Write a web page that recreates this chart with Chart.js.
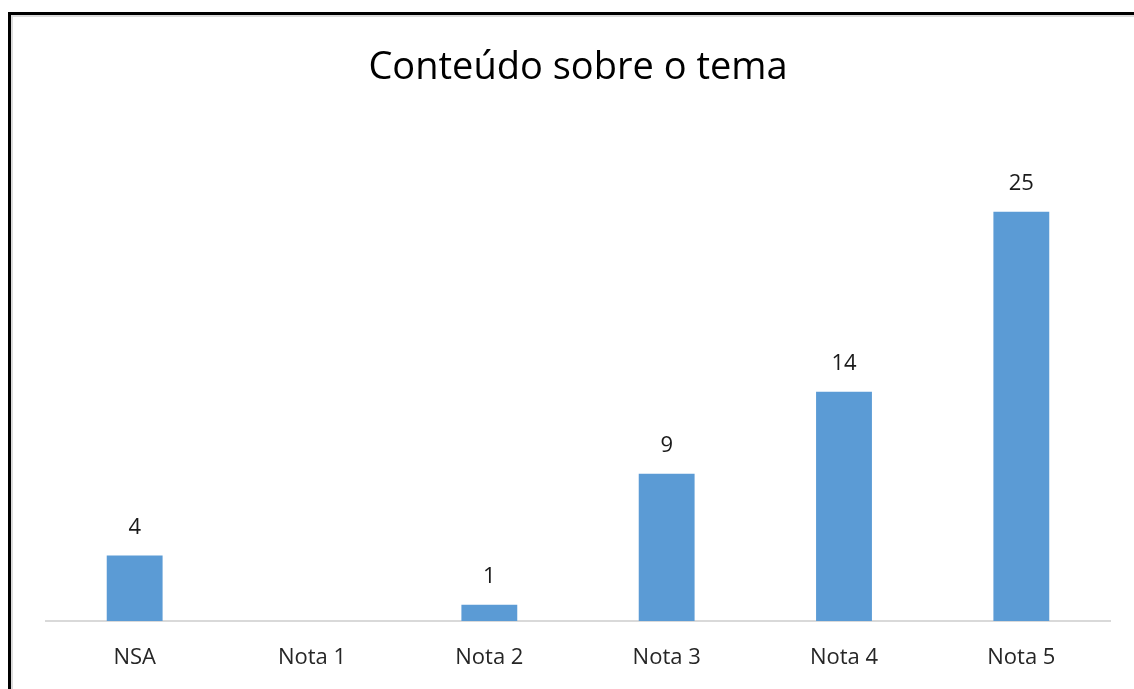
<!DOCTYPE html>
<html>
<head>
<meta charset="utf-8">
<script src="https://cdn.jsdelivr.net/npm/chart.js@4.4.1/dist/chart.umd.min.js"></script>
<style>
  html, body { margin: 0; padding: 0; background: #fff; }
  #wrap { position: relative; width: 1134px; height: 689px; overflow: hidden; }
  #chart { position: absolute; left: 0; top: 0; }
  .frame { position: absolute; left: 8px; top: 12px; width: 1200px; height: 800px;
           border-left: 3px solid #000; border-top: 3px solid #000; pointer-events: none; }
  .shade { position: absolute; left: 11px; top: 15px; width: 1200px; height: 800px;
           border-left: 2px solid #dcdcdc; border-top: 2px solid #dcdcdc; pointer-events: none; }
</style>
</head>
<body>
<div id="wrap">
  <canvas id="chart" width="1134" height="689"></canvas>
  <div class="shade"></div>
  <div class="frame"></div>
</div>
<script>
// Category labels and counts per grade
const categories = ['NSA', 'Nota 1', 'Nota 2', 'Nota 3', 'Nota 4', 'Nota 5'];
const counts = [4, 0, 1, 9, 14, 25];
const titleText = 'Conteúdo sobre o tema';

const FONT = "'Open Sans', sans-serif";

// Draws the value above each non-zero bar
const valueLabels = {
  id: 'valueLabels',
  afterDatasetsDraw(chart) {
    const ctx = chart.ctx;
    const meta = chart.getDatasetMeta(0);
    ctx.save();
    ctx.font = '22px ' + FONT;
    ctx.fillStyle = '#1a1a1a';
    ctx.textAlign = 'center';
    ctx.textBaseline = 'middle';
    meta.data.forEach((bar, i) => {
      const v = chart.data.datasets[0].data[i];
      if (!v) return;
      ctx.fillText(String(v), bar.x, bar.y - 28);
    });
    ctx.restore();
  }
};

new Chart(document.getElementById('chart'), {
  type: 'bar',
  data: {
    labels: categories,
    datasets: [{
      data: counts,
      backgroundColor: '#5B9BD5',
      borderWidth: 0,
      categoryPercentage: 1,
      barPercentage: 0.315
    }]
  },
  options: {
    responsive: false,
    animation: false,
    events: [],
    layout: { padding: { left: 46, right: 24, top: 0, bottom: 0 } },
    plugins: {
      legend: { display: false },
      tooltip: { enabled: false },
      title: {
        display: true,
        text: titleText,
        color: '#000',
        font: { family: FONT, size: 38, weight: 'normal', lineHeight: 1.2 },
        padding: { top: 45.8, bottom: 38.6 }
      }
    },
    scales: {
      x: {
        grid: { display: false, drawTicks: false },
        border: { display: true, color: '#d9d9d9', width: 2 },
        ticks: { color: '#262626', font: { family: FONT, size: 22 }, padding: 24 },
        afterFit(scale) { scale.height = 68; }
      },
      y: {
        display: false,
        min: 0,
        max: 30
      }
    }
  },
  plugins: [valueLabels]
});
</script>
</body>
</html>
